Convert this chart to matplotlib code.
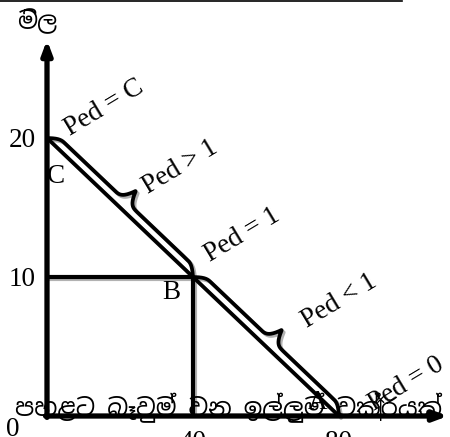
import numpy as np
import matplotlib
matplotlib.use("Agg")
import matplotlib.pyplot as plt
import matplotlib.patheffects as pe
from matplotlib import font_manager
from matplotlib.lines import Line2D

# --- data ---
demand_q = [0, 40, 80]
demand_p = [20, 10, 0]
price_ticks = [10, 20]
qty_ticks = [40, 80]
point_labels = ["C", "B", "A"]
elasticity_labels = ["Ped = C", "Ped > 1", "Ped = 1", "Ped < 1", "Ped = 0"]
y_label = "මිල"
x_label = "පහළට බෑවුම් වන ඉල්ලුම් වක්‍රයක්"

# find something that can draw Sinhala, if there is one
sinhala = None
for f in font_manager.fontManager.ttflist:
    if "Sinhala" in f.name or "Iskoola" in f.name:
        sinhala = f.name
        break
sin_family = ([sinhala] if sinhala else []) + ["Liberation Serif", "DejaVu Sans"]
serif = "Liberation Serif"
fs = 19.5

W, H = 450, 437
fig = plt.figure(figsize=(W / 100, H / 100), dpi=100)
# axes box in pixels: origin at (47, 416), arrow tips at x=448 / y=40
ax = fig.add_axes([47 / W, (H - 416) / H, 401 / W, 376 / H])
sx, sy = 3.65, 13.9  # px per unit
xmax, ymax = 401 / sx, 376 / sy
ax.set_xlim(0, xmax)
ax.set_ylim(0, ymax)
for s in ax.spines.values():
    s.set_visible(False)

shadow = [pe.SimpleLineShadow(offset=(1.5, -1.5), alpha=0.3), pe.Normal()]

# axes with arrows
arrow = dict(arrowstyle="-|>,head_length=0.8,head_width=0.3", lw=3.8, color="black",
             shrinkA=0, shrinkB=0)
ax.annotate("", xy=(xmax, 0), xytext=(-0.4, 0), arrowprops=arrow, annotation_clip=False)
ax.annotate("", xy=(0, ymax), xytext=(0, -0.1), arrowprops=arrow, annotation_clip=False)

ax.set_xticks(qty_ticks)
ax.set_xticklabels([str(v) for v in qty_ticks])
ax.set_yticks(price_ticks)
ax.set_yticklabels([str(v) for v in price_ticks])
ax.tick_params(length=0, labelsize=fs)
ax.tick_params(axis="x", pad=10)
ax.tick_params(axis="y", pad=8)
for lab in ax.get_xticklabels() + ax.get_yticklabels():
    lab.set_family(serif)
ax.text(-9.5, -0.1, "0", family=serif, fontsize=fs, ha="center", va="top")

# guide lines to B
ax.plot([0, demand_q[1]], [demand_p[1], demand_p[1]], color="black", lw=3.0,
        solid_capstyle="butt", path_effects=shadow)
ax.plot([demand_q[1], demand_q[1]], [demand_p[1], 0], color="black", lw=3.0,
        solid_capstyle="butt", path_effects=shadow)

# demand curve
ax.plot(demand_q, demand_p, color="black", lw=2.7, solid_capstyle="round", path_effects=shadow)


def brace(p0, p1, off=8.5, tip=23.0, r=15.0, w=17.0):
    """Curly brace above the segment p0-p1, built in pixels, returned in data."""
    a = ax.transData.transform(p0)
    b = ax.transData.transform(p1)
    L = np.hypot(*(b - a))
    d = (b - a) / L
    n = np.array([-d[1], d[0]])
    t = np.linspace(0, L, 600)
    h = np.full_like(t, off)
    u = t / r
    h[u < 1] = off * np.sin(u[u < 1] * np.pi / 2)
    u = (L - t) / r
    h[u < 1] = off * np.sin(u[u < 1] * np.pi / 2)
    u = np.abs(t - L / 2) / w
    m = u < 1
    h[m] = off + (tip - off) * (1 - np.sin(u[m] * np.pi / 2)) ** 2
    pts = a + np.outer(t, d) + np.outer(h, n)
    return ax.transData.inverted().transform(pts)


fig.canvas.draw()
for i in range(2):
    bp = brace((demand_q[i], demand_p[i]), (demand_q[i + 1], demand_p[i + 1]))
    ax.plot(bp[:, 0], bp[:, 1], color="black", lw=2.7, solid_capstyle="round",
            path_effects=shadow, clip_on=False)

# point letters
for lab, (x, y) in zip(point_labels, [(2.4, 17.2), (34.0, 8.9), (74.2, 1.0)]):
    ax.text(x, y, lab, family=serif, fontsize=fs, ha="center", va="center")

# elasticity labels
for lab, (x, y) in zip(elasticity_labels,
                       [(15.8, 22.2), (36.6, 17.9), (53.6, 13.0), (80.0, 8.3), (98.4, 2.3)]):
    ax.text(x, y, lab, family=serif, fontsize=fs, ha="center", va="center", rotation=31,
            rotation_mode="anchor")

ax.text(-2.7, 28.4, y_label, family=sin_family, fontsize=17, ha="center", va="center")
ax.text(49.8, 0.55, x_label, family=sin_family, fontsize=17.5, ha="center", va="center")

# thin rule along the top edge
fig.add_artist(Line2D([0, 402 / W], [1 - 1 / H, 1 - 1 / H], color="black", lw=1.2))

fig.savefig("out.png", dpi=100)
